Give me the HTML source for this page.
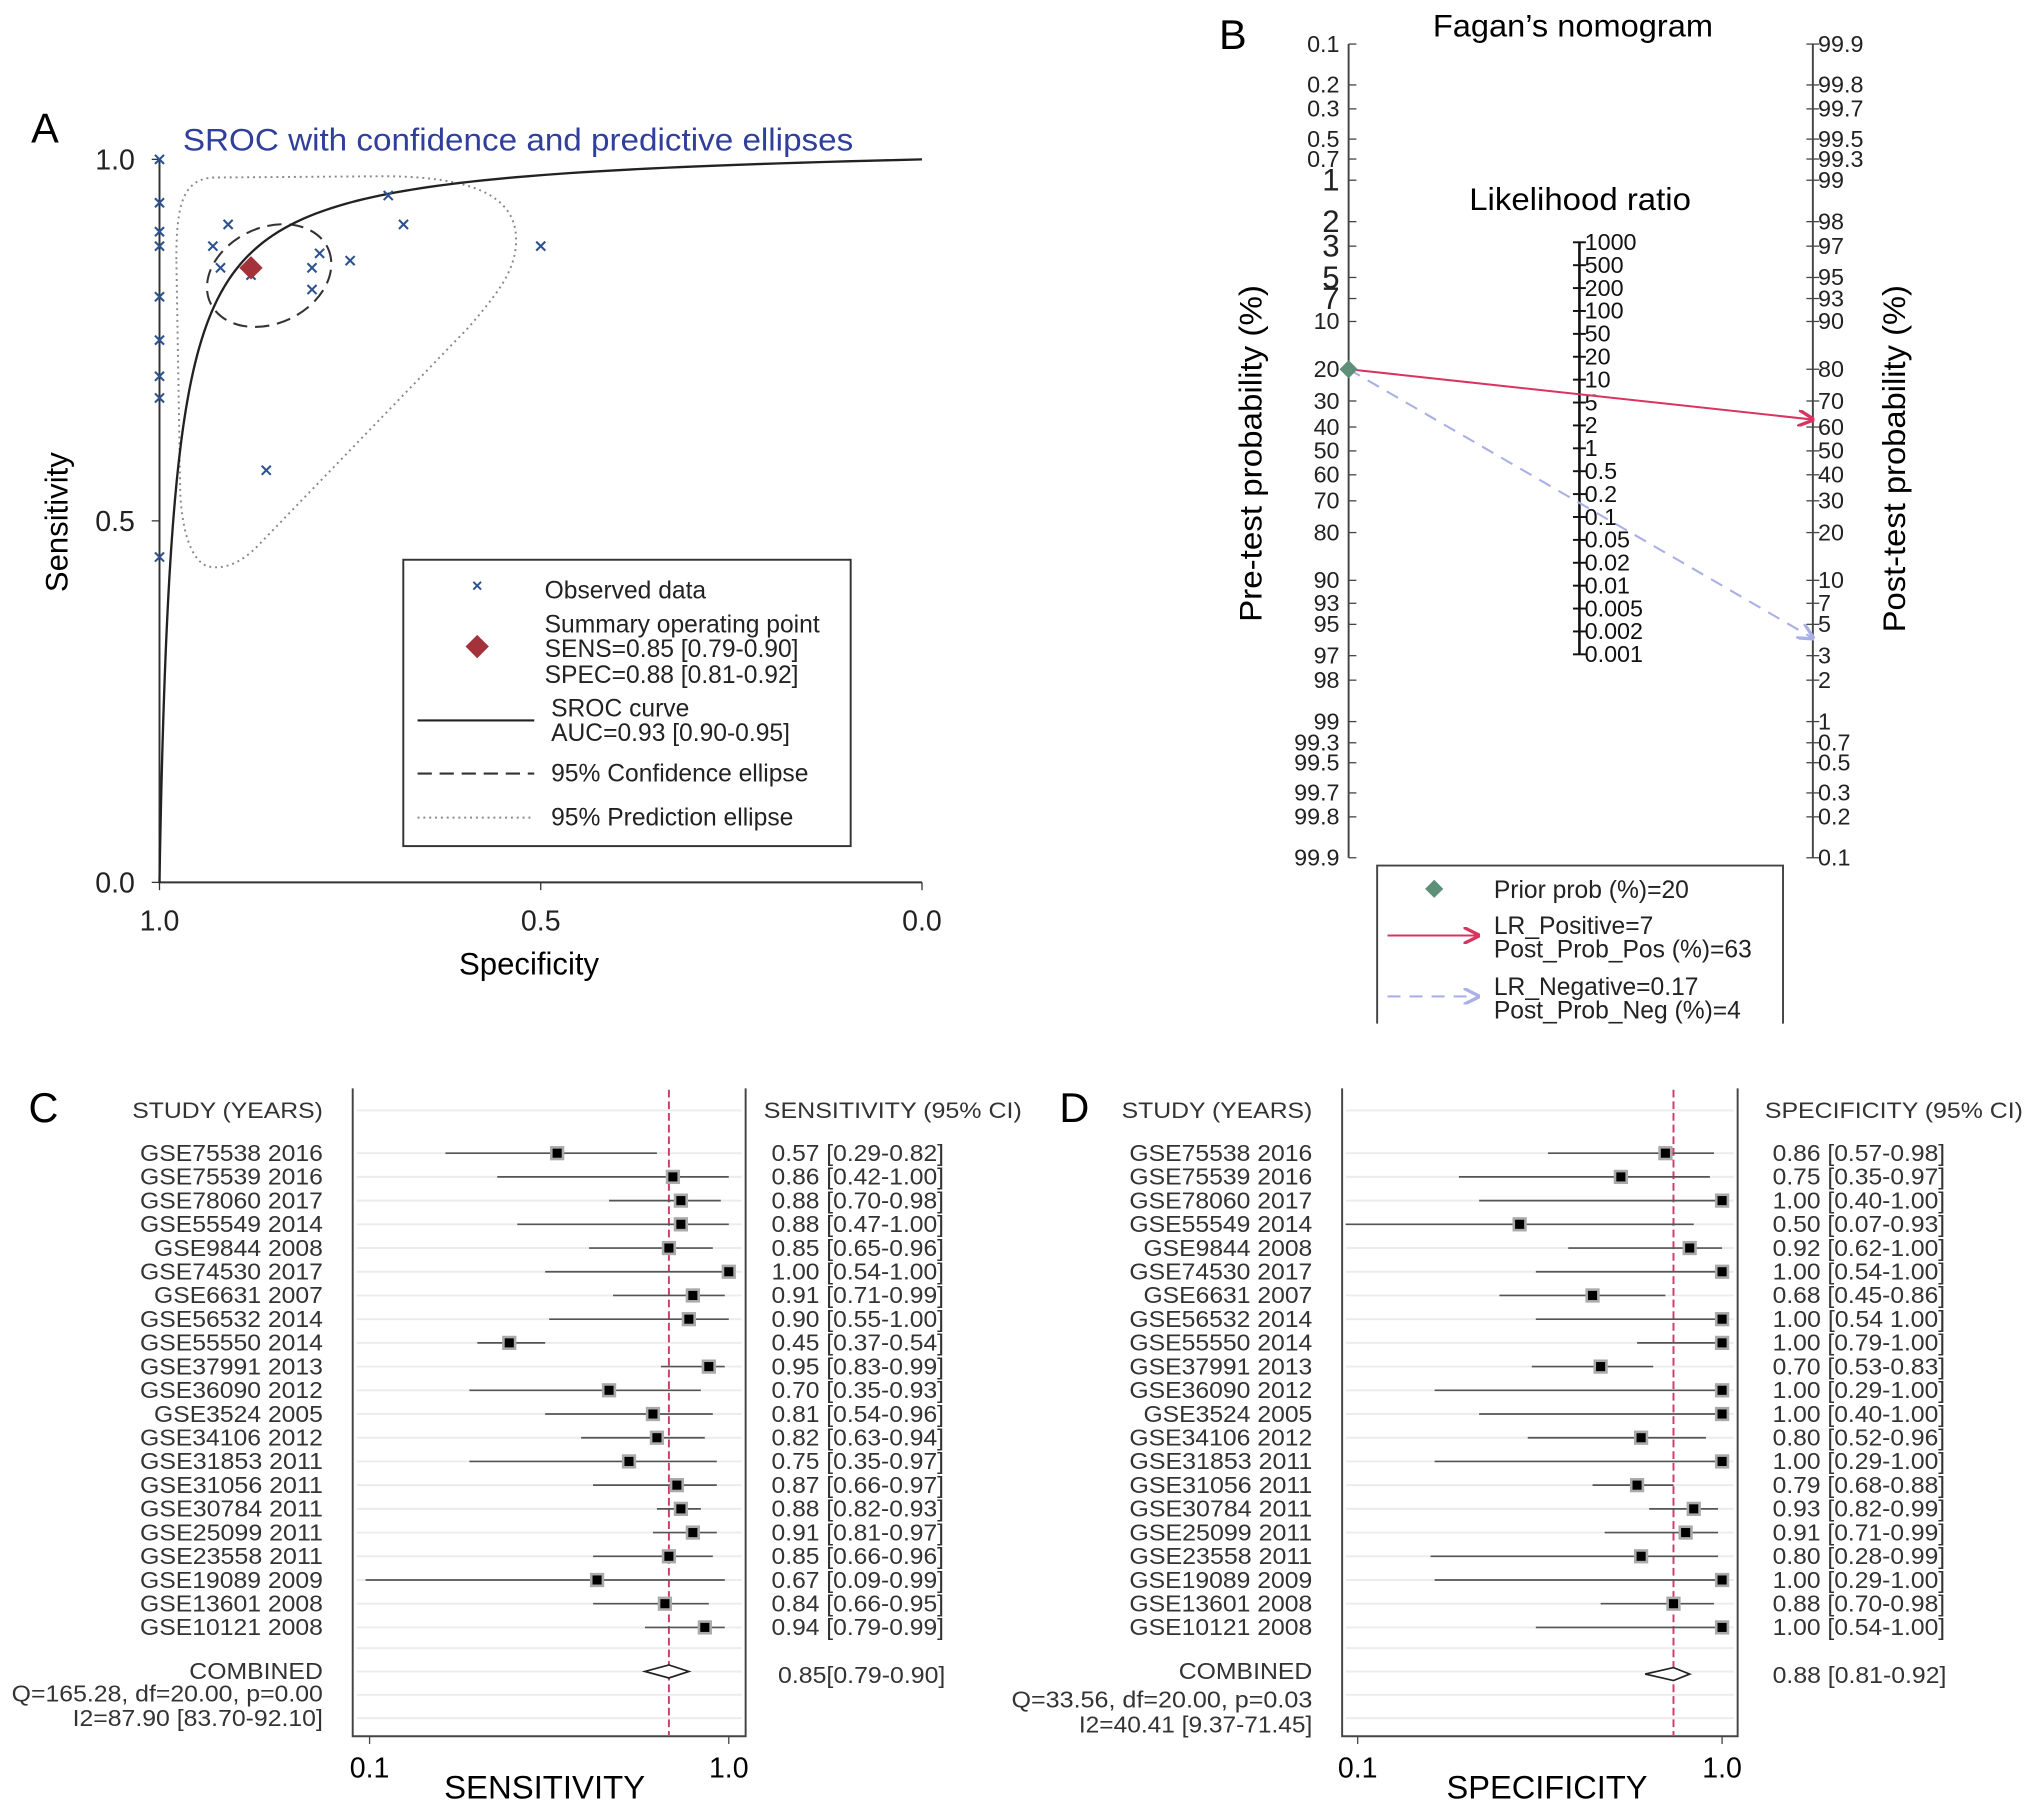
<!DOCTYPE html>
<html><head><meta charset="utf-8"><title>Diagnostic meta-analysis figure</title>
<style>
html,body{margin:0;padding:0;background:#fff;}
svg{display:block;}
text{font-family:"Liberation Sans",Arial,sans-serif;}
</style></head>
<body>
<svg id="fig" xmlns="http://www.w3.org/2000/svg" width="2032" height="1814" viewBox="0 0 1567 1400" preserveAspectRatio="none">
<defs>
<marker id="arrRed" viewBox="0 0 10 10" refX="9" refY="5" markerWidth="8" markerHeight="8" orient="auto"><path d="M0,0 L10,5 L0,10" fill="none" stroke="#d8345f" stroke-width="2"/></marker>
<marker id="arrBlue" viewBox="0 0 10 10" refX="9" refY="5" markerWidth="8" markerHeight="8" orient="auto"><path d="M0,0 L10,5 L0,10" fill="none" stroke="#aab0e6" stroke-width="2"/></marker>
</defs>
<g id="panelA"></g>
<g id="panelB"></g>
<g id="panelC"></g>
<g id="panelD"></g>
</svg>
<script>
// ---------- data ----------
const studies=["GSE75538 2016","GSE75539 2016","GSE78060 2017","GSE55549 2014","GSE9844 2008","GSE74530 2017","GSE6631 2007","GSE56532 2014","GSE55550 2014","GSE37991 2013","GSE36090 2012","GSE3524 2005","GSE34106 2012","GSE31853 2011","GSE31056 2011","GSE30784 2011","GSE25099 2011","GSE23558 2011","GSE19089 2009","GSE13601 2008","GSE10121 2008"];
const sens=[0.57,0.86,0.88,0.88,0.85,1.00,0.91,0.90,0.45,0.95,0.70,0.81,0.82,0.75,0.87,0.88,0.91,0.85,0.67,0.84,0.94];
const sensLo=[0.29,0.42,0.70,0.47,0.65,0.54,0.71,0.55,0.37,0.83,0.35,0.54,0.63,0.35,0.66,0.82,0.81,0.66,0.09,0.66,0.79];
const sensHi=[0.82,1.00,0.98,1.00,0.96,1.00,0.99,1.00,0.54,0.99,0.93,0.96,0.94,0.97,0.97,0.93,0.97,0.96,0.99,0.95,0.99];
const spec=[0.86,0.75,1.00,0.50,0.92,1.00,0.68,1.00,1.00,0.70,1.00,1.00,0.80,1.00,0.79,0.93,0.91,0.80,1.00,0.88,1.00];
const specLo=[0.57,0.35,0.40,0.07,0.62,0.54,0.45,0.54,0.79,0.53,0.29,0.40,0.52,0.29,0.68,0.82,0.71,0.28,0.29,0.70,0.54];
const specHi=[0.98,0.97,1.00,0.93,1.00,1.00,0.86,1.00,1.00,0.83,1.00,1.00,0.96,1.00,0.88,0.99,0.99,0.99,1.00,0.98,1.00];
const pooledSens=[0.85,0.79,0.90];
const pooledSpec=[0.88,0.81,0.92];
const srocParams=[3.8,0.95]; // logit(se)=a+b*logit(fpr)
const preTicks=[0.1,0.2,0.3,0.5,0.7,1,2,3,5,7,10,20,30,40,50,60,70,80,90,93,95,97,98,99,99.3,99.5,99.7,99.8,99.9];
const postTicks=[99.9,99.8,99.7,99.5,99.3,99,98,97,95,93,90,80,70,60,50,40,30,20,10,7,5,3,2,1,0.7,0.5,0.3,0.2,0.1];
const lrTicks=["1000","500","200","100","50","20","10","5","2","1","0.5","0.2","0.1","0.05","0.02","0.01","0.005","0.002","0.001"];
const priorProb=[20];
const postProbs=[63,4];

const NS="http://www.w3.org/2000/svg";
function mk(parent,tag,attrs,txt){const e=document.createElementNS(NS,tag);for(const k in attrs)e.setAttribute(k,attrs[k]);if(txt!==undefined)e.textContent=txt;parent.appendChild(e);return e;}
const f2=v=>v.toFixed(2);

// ---------- Panel A ----------
(function(){
const g=document.getElementById('panelA');
const X=sp=>123+(1-sp)*588, Y=se=>681-se*558;
let t=mk(g,'text',{x:24,y:110,'font-size':32},'A');


t=mk(g,'text',{x:141,y:116,'font-size':24,fill:'#2f3f9a',textLength:517,lengthAdjust:'spacingAndGlyphs'},'SROC with confidence and predictive ellipses');


let ax=mk(g,'path',{d:'M123 123 V681 H711',fill:'none',stroke:'#333','stroke-width':1.5});


[1,0.5,0].forEach(v=>{
 mk(g,'line',{x1:117,x2:123,y1:Y(v),y2:Y(v),stroke:'#333'});
 const l=mk(g,'text',{x:104,y:Y(v)+8,'font-size':22,'text-anchor':'end',fill:'#222'},v.toFixed(1));
 
 
 mk(g,'line',{x1:X(v),x2:X(v),y1:681,y2:687,stroke:'#333'});
 const l2=mk(g,'text',{x:X(v),y:718,'font-size':22,'text-anchor':'middle',fill:'#222'},v.toFixed(1));
 
 
});
t=mk(g,'text',{x:0,y:0,'font-size':24,'text-anchor':'middle',transform:'translate(52,403) rotate(-90)'},'Sensitivity');


t=mk(g,'text',{x:408,y:752,'font-size':24,'text-anchor':'middle'},'Specificity');


let p=mk(g,'path',{d:'M136 200 C136 158 141 138 165 137 L300 136 C362 137 398 150 398 185 C398 210 382 228 362 252 L200 420 C186 435 172 440 160 437 C146 432 140 405 139 380 Z',fill:'none',stroke:'#888','stroke-width':1.5,'stroke-dasharray':'1.5 3'});


p=mk(g,'ellipse',{cx:X(pooledSpec[0])+14,cy:Y(pooledSens[0])+6,rx:50,ry:37,transform:`rotate(-25 ${X(pooledSpec[0])+14} ${Y(pooledSens[0])+6})`,fill:'none',stroke:'#333','stroke-width':1.6,'stroke-dasharray':'11 6'});


let d='M'+X(1)+' '+Y(0);
for(let i=0;i<=400;i++){const fpr=Math.pow(10,-6+6*i/400);const lf=Math.log(fpr/(1-fpr+1e-12));let se=1/(1+Math.exp(-(srocParams[0]+srocParams[1]*lf)));if(fpr>=1)se=1;d+=' L'+X(1-fpr).toFixed(2)+' '+Y(se).toFixed(2);}
p=mk(g,'path',{d:d,fill:'none',stroke:'#222','stroke-width':1.8});


for(let i=0;i<sens.length;i++){
 const x=X(spec[i]),y=Y(sens[i]);
 const m=mk(g,'path',{d:`M${x-3.5} ${y-3.5}L${x+3.5} ${y+3.5}M${x-3.5} ${y+3.5}L${x+3.5} ${y-3.5}`,stroke:'#2d5290','stroke-width':1.6});
 
 
}
const sx=X(pooledSpec[0]),sy=Y(pooledSens[0]);
p=mk(g,'path',{d:`M${sx} ${sy-9}L${sx+9} ${sy}L${sx} ${sy+9}L${sx-9} ${sy}Z`,fill:'#a3323a'});


const lg=mk(g,'g',{});


mk(lg,'rect',{x:311,y:432,width:345,height:221,fill:'#fff',stroke:'#333','stroke-width':1.5});
mk(lg,'path',{d:'M365 449L371 455M365 455L371 449',stroke:'#2d5290','stroke-width':1.5});
const lt=(x,y,s)=>{const e=mk(lg,'text',{x:x,y:y,'font-size':19,fill:'#222'},s);};
lt(420,462,'Observed data');
mk(lg,'path',{d:'M368 490L377 499L368 508L359 499Z',fill:'#a3323a'});
lt(420,488,'Summary operating point');lt(420,507,'SENS=0.85 [0.79-0.90]');lt(420,527,'SPEC=0.88 [0.81-0.92]');
mk(lg,'line',{x1:322,x2:412,y1:556,y2:556,stroke:'#222','stroke-width':1.6});
lt(425,553,'SROC curve');lt(425,572,'AUC=0.93 [0.90-0.95]');
mk(lg,'line',{x1:322,x2:412,y1:597,y2:597,stroke:'#333','stroke-width':1.6,'stroke-dasharray':'11 6'});
lt(425,603,'95% Confidence ellipse');
mk(lg,'line',{x1:322,x2:412,y1:631,y2:631,stroke:'#888','stroke-width':1.5,'stroke-dasharray':'1.5 3'});
lt(425,637,'95% Prediction ellipse');
})();

// ---------- Panel B ----------
(function(){
const g=document.getElementById('panelB');
const lg=p=>Math.log(p/(100-p));
const K=314/6.9068;
const YL=p=>348+lg(p)*K, YR=p=>348-lg(p)*K;
const XL=1040,XR=1398,XM=1218;
let t=mk(g,'text',{x:940,y:38,'font-size':32},'B');


t=mk(g,'text',{x:1105,y:28,'font-size':24,textLength:216,lengthAdjust:'spacingAndGlyphs'},'Fagan\u2019s nomogram');


t=mk(g,'text',{x:1133,y:162,'font-size':24,textLength:171,lengthAdjust:'spacingAndGlyphs'},'Likelihood ratio');


let a=mk(g,'line',{x1:XL,x2:XL,y1:34,y2:662,stroke:'#444','stroke-width':1.5});


a=mk(g,'line',{x1:XR,x2:XR,y1:34,y2:662,stroke:'#444','stroke-width':1.5});


preTicks.forEach(v=>{const y=YL(v);mk(g,'line',{x1:XL,x2:XL+6,y1:y,y2:y,stroke:'#444'});
 const big=[1,2,3,5,7].includes(v);
 const e=mk(g,'text',{x:XL-7,y:y+(big?8:6),'font-size':big?24:18,'text-anchor':'end',fill:'#222'},String(v));
 
 });
postTicks.forEach(v=>{const y=YR(v);mk(g,'line',{x1:XR-5,x2:XR+5,y1:y,y2:y,stroke:'#444'});
 const e=mk(g,'text',{x:XR+4,y:y+6,'font-size':18,fill:'#222'},String(v));
 
 });
a=mk(g,'line',{x1:XM,x2:XM,y1:187,y2:505,stroke:'#111','stroke-width':2});


lrTicks.forEach((s,i)=>{const y=187+i*(318/(lrTicks.length-1));mk(g,'line',{x1:XM-5,x2:XM+5,y1:y,y2:y,stroke:'#111','stroke-width':1.5});
 const e=mk(g,'text',{x:XM+4,y:y+6,'font-size':18,fill:'#111'},s);
 
 });
t=mk(g,'text',{x:0,y:0,'font-size':24,'text-anchor':'middle',textLength:260,lengthAdjust:'spacingAndGlyphs',transform:'translate(973,350) rotate(-90)'},'Pre-test probability (%)');


t=mk(g,'text',{x:0,y:0,'font-size':24,'text-anchor':'middle',textLength:268,lengthAdjust:'spacingAndGlyphs',transform:'translate(1469,354) rotate(-90)'},'Post-test probability (%)');


const y0=YL(priorProb[0]);
let l=mk(g,'line',{x1:XL,y1:y0,x2:XR,y2:YR(postProbs[1]),stroke:'#aab0e6','stroke-width':1.6,'stroke-dasharray':'10 7','marker-end':'url(#arrBlue)'});


l=mk(g,'line',{x1:XL,y1:y0,x2:XR,y2:YR(postProbs[0]),stroke:'#d8345f','stroke-width':1.6,'marker-end':'url(#arrRed)'});


l=mk(g,'path',{d:`M${XL} ${y0-7}L${XL+7} ${y0}L${XL} ${y0+7}L${XL-7} ${y0}Z`,fill:'#5e8f78'});


const lgd=mk(g,'g',{});


mk(lgd,'path',{d:'M1062 790 V668 H1375 V790',fill:'#fff',stroke:'#444','stroke-width':1.5});
mk(lgd,'path',{d:'M1106 679L1113 686L1106 693L1099 686Z',fill:'#5e8f78'});
const lt=(x,y,s)=>{const e=mk(lgd,'text',{x:x,y:y,'font-size':19,fill:'#222'},s);};
lt(1152,693,'Prior prob (%)=20');
mk(lgd,'line',{x1:1070,x2:1140,y1:722,y2:722,stroke:'#d8345f','stroke-width':1.6,'marker-end':'url(#arrRed)'});
lt(1152,721,'LR_Positive=7');lt(1152,739,'Post_Prob_Pos (%)=63');
mk(lgd,'line',{x1:1070,x2:1140,y1:769,y2:769,stroke:'#aab0e6','stroke-width':1.6,'stroke-dasharray':'10 7','marker-end':'url(#arrBlue)'});
lt(1152,768,'LR_Negative=0.17');lt(1152,786,'Post_Prob_Neg (%)=4');
})();

// ---------- Forest plots ----------
function forest(g,o,vals,lo,hi,pooled,ciText,pooledText,qText,iText){
 const XV=v=>o.ax0+(v-0.1)/0.9*(o.ax1-o.ax0);
 const rowY=i=>890+i*18.3;
 let t=mk(g,'text',{x:o.letterX,y:866,'font-size':32},o.letter);
 
 
 const lines=[857];for(let i=0;i<vals.length;i++)lines.push(rowY(i));lines.push(1272,1290,1308,1326);
 lines.forEach(y=>mk(g,'line',{x1:o.b0+3,x2:o.b1-3,y1:y,y2:y,stroke:'#ececec','stroke-width':1.5}));
 const box=mk(g,'path',{d:`M${o.b0} 840 V1340 H${o.b1} V840`,fill:'none',stroke:'#444','stroke-width':1.5});
 
 
 [0.1,1.0].forEach(v=>{mk(g,'line',{x1:XV(v),x2:XV(v),y1:1340,y2:1346,stroke:'#444'});
  const e=mk(g,'text',{x:XV(v),y:1372,'font-size':22,'text-anchor':'middle'},v.toFixed(1));
  
  });
 t=mk(g,'text',{x:o.titleX,y:1388,'font-size':25,'text-anchor':'middle',textLength:o.titleW,lengthAdjust:'spacingAndGlyphs'},o.axisTitle);
 
 
 t=mk(g,'text',{x:o.labR,y:863,'font-size':17,'text-anchor':'end',fill:'#333',textLength:147,lengthAdjust:'spacingAndGlyphs'},'STUDY (YEARS)');
 
 
 t=mk(g,'text',{x:o.valX-6,y:863,'font-size':17,fill:'#333',textLength:199,lengthAdjust:'spacingAndGlyphs'},o.valHead);
 
 
 const pl=mk(g,'line',{x1:XV(pooled[0]),x2:XV(pooled[0]),y1:841,y2:1339,stroke:'#d23a6a','stroke-width':1.5,'stroke-dasharray':'6 3'});
 
 
 for(let i=0;i<vals.length;i++){
  const y=rowY(i);
  let e=mk(g,'text',{x:o.labR,y:y+6,'font-size':18,'text-anchor':'end',fill:'#333',textLength:studies[i].length*10.85,lengthAdjust:'spacingAndGlyphs'},studies[i]);
  
  
  e=mk(g,'line',{x1:XV(lo[i]),x2:XV(hi[i]),y1:y,y2:y,stroke:'#555','stroke-width':1.3});
  
  
  e=mk(g,'rect',{x:XV(vals[i])-5.5,y:y-5.5,width:11,height:11,fill:'#aaa'});
  
  
  e=mk(g,'rect',{x:XV(vals[i])-3.5,y:y-3.5,width:7,height:7,fill:'#000'});
  
  
  e=mk(g,'text',{x:o.valX,y:y+6,'font-size':18,fill:'#333',textLength:133,lengthAdjust:'spacingAndGlyphs'},ciText(i));
  
  
 }
 const cy=o.combY;
 let e=mk(g,'path',{d:`M${XV(pooled[1])} ${cy}L${XV(pooled[0])} ${cy-5}L${XV(pooled[2])} ${cy}L${XV(pooled[0])} ${cy+5}Z`,fill:'#fff',stroke:'#222','stroke-width':1.3});
 
 
 e=mk(g,'text',{x:o.labR,y:1296,'font-size':18,'text-anchor':'end',fill:'#333',textLength:103,lengthAdjust:'spacingAndGlyphs'},'COMBINED');
 
 
 e=mk(g,'text',{x:o.labR,y:o.qY,'font-size':18,'text-anchor':'end',fill:'#333',textLength:o.qW,lengthAdjust:'spacingAndGlyphs'},qText);
 
 
 e=mk(g,'text',{x:o.labR,y:o.qY+19,'font-size':18,'text-anchor':'end',fill:'#333',textLength:o.iW,lengthAdjust:'spacingAndGlyphs'},iText);
 
 
 e=mk(g,'text',{x:o.pValX,y:1299,'font-size':18,fill:'#333',textLength:o.pW,lengthAdjust:'spacingAndGlyphs'},pooledText);
 
 
}
forest(document.getElementById('panelC'),{letter:'C',letterX:22,labR:249,b0:272,b1:575,ax0:285,ax1:562,valX:595,titleX:420,titleW:155,axisTitle:'SENSITIVITY',valHead:'SENSITIVITY (95% CI)',combY:1290,qY:1313,qW:240,iW:193,pValX:600,pW:129},
 sens,sensLo,sensHi,pooledSens,i=>`${f2(sens[i])} [${f2(sensLo[i])}-${f2(sensHi[i])}]`,'0.85[0.79-0.90]','Q=165.28, df=20.00, p=0.00','I2=87.90 [83.70-92.10]');
forest(document.getElementById('panelD'),{letter:'D',letterX:817,labR:1012,b0:1035,b1:1340,ax0:1047,ax1:1328,valX:1367,titleX:1193,titleW:155,axisTitle:'SPECIFICITY',valHead:'SPECIFICITY (95% CI)',combY:1292,qY:1318,qW:232,iW:180,pValX:1367,pW:134},
 spec,specLo,specHi,pooledSpec,i=>`${f2(spec[i])} [${f2(specLo[i])}${studies[i]==='GSE56532 2014'?' ':'-'}${f2(specHi[i])}]`,'0.88 [0.81-0.92]','Q=33.56, df=20.00, p=0.03','I2=40.41 [9.37-71.45]');
</script>
</body></html>
